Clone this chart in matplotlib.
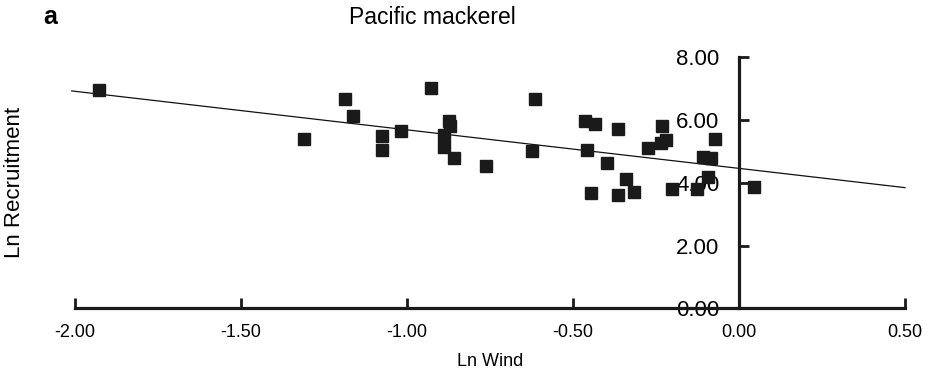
import matplotlib
matplotlib.use("Agg")
import matplotlib.pyplot as plt
import numpy as np

# Data
ln_wind = [-1.927, -1.311, -1.187, -1.162, -1.075, -1.075, -1.018, -0.928,
           -0.874, -0.870, -0.889, -0.888, -0.858, -0.762, -0.615, -0.624,
           -0.464, -0.434, -0.459, -0.365, -0.399, -0.447, -0.365, -0.339,
           -0.316, -0.275, -0.231, -0.221, -0.236, -0.201, -0.126, -0.109,
           -0.085, -0.093, -0.073, 0.045]
ln_recruit = [6.95, 5.40, 6.66, 6.14, 5.50, 5.04, 5.65, 7.01,
              5.98, 5.81, 5.52, 5.13, 4.80, 4.54, 6.66, 5.02,
              5.98, 5.86, 5.06, 5.73, 4.64, 3.69, 3.61, 4.11,
              3.71, 5.12, 5.80, 5.38, 5.26, 3.80, 3.81, 4.83,
              4.78, 4.17, 5.41, 3.87]
fit_x = [-2.01, 0.5]
fit_intercept = 4.46
fit_slope = -1.228
x_ticks = [-2.0, -1.5, -1.0, -0.5, 0.0, 0.5]
x_ticklabels = ["-2.00", "-1.50", "-1.00", "-0.50", "0.00", "0.50"]
y_ticks = [0, 2, 4, 6, 8]
y_ticklabels = ["0.00", "2.00", "4.00", "6.00", "8.00"]

plt.rcParams['font.family'] = ['Liberation Sans', 'DejaVu Sans']

fig = plt.figure(figsize=(9.32, 3.78), dpi=100)
ax = fig.add_axes([75/932, 69.7/378, 830/932, 251/378])

ax.set_xlim(-2.0, 0.5)
ax.set_ylim(0, 8)

fx = np.array(fit_x)
ax.plot(fx, fit_intercept + fit_slope * fx, color='#111111', lw=0.9,
        clip_on=False, zorder=2)
ax.plot(ln_wind, ln_recruit, linestyle='none', marker='s', markersize=8,
        color='#1a1a1a', clip_on=False, zorder=3)

for s in ['top', 'right']:
    ax.spines[s].set_visible(False)
ax.spines['left'].set_position(('data', 0))
ax.spines['bottom'].set_position(('data', 0))
ax.spines['left'].set_bounds(0, 8)
ax.spines['bottom'].set_bounds(-2.0, 0.5)
for s in ['left', 'bottom']:
    ax.spines[s].set_linewidth(2.3)
    ax.spines[s].set_color('#1a1a1a')

ax.set_xticks(x_ticks)
ax.set_xticklabels(x_ticklabels)
ax.set_yticks(y_ticks)
ax.set_yticklabels(y_ticklabels)
ax.tick_params(axis='x', direction='in', length=7, width=2, color='#1a1a1a',
               labelsize=13, pad=11)
ax.tick_params(axis='y', direction='in', length=7, width=2, color='#1a1a1a',
               labelsize=16, pad=14)
ax.patch.set_visible(False)

fig.text(490/932, 1 - 361/378, "Ln Wind", ha='center', va='center', fontsize=13)
fig.text(15/932, 1 - 182/378, "Ln Recruitment", ha='center', va='center',
         fontsize=16, rotation=90)
fig.text(432/932, 1 - 17/378, "Pacific mackerel", ha='center', va='center',
         fontsize=16.5)
fig.text(50/932, 1 - 17/378, "a", ha='center', va='center', fontsize=18,
         fontweight='bold')

fig.savefig("out.png", dpi=100)
